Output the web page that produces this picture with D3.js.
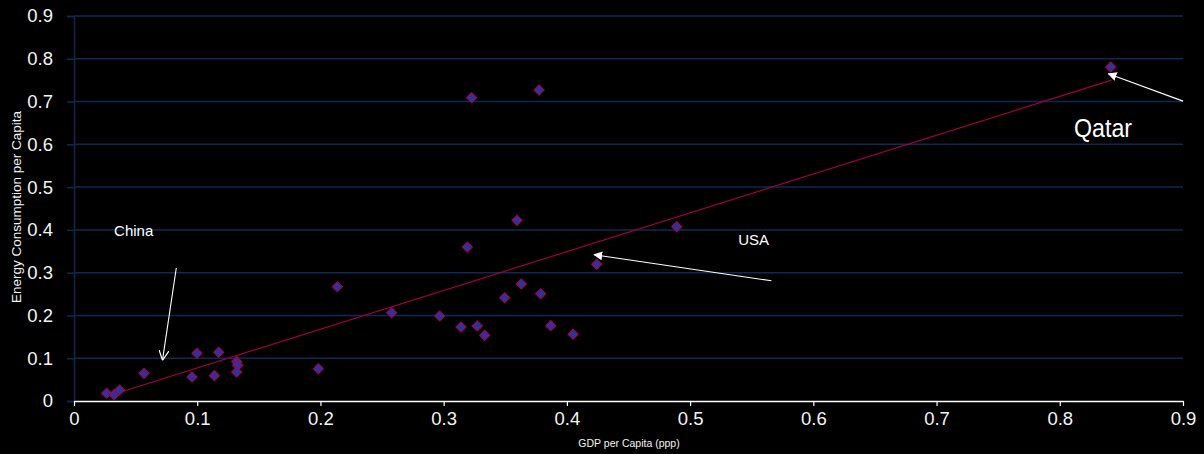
<!DOCTYPE html>
<html><head><meta charset="utf-8">
<script src="https://cdn.jsdelivr.net/npm/d3@7"></script>
<style>html,body{margin:0;padding:0;background:#000;}svg{display:block;}</style>
</head><body>
<svg id="chart" width="1204" height="454"></svg>
<script>
const gdp = [0.0265,0.0325,0.037,0.0568,0.0998,0.1174,0.0958,0.1139,0.132,0.1328,0.132,0.1983,
  0.2137,0.2578,0.2968,0.3141,0.3273,0.3333,0.3192,0.3595,0.3495,0.363,0.3787,0.3869,0.405,0.4242,
  0.3227,0.3774,0.4891,0.8413];
const energy = [0.018,0.0148,0.0257,0.0647,0.1115,0.1138,0.0561,0.0592,0.092,0.0834,0.0678,0.0755,
  0.267,0.2065,0.1987,0.173,0.1753,0.1535,0.36,0.4223,0.2415,0.2735,0.2508,0.1761,0.1559,0.3195,
  0.709,0.727,0.4075,0.7807];
const trendX = [0.0265, 0.842];
const trendY = [0.0105, 0.750];
const xTicks = [0,0.1,0.2,0.3,0.4,0.5,0.6,0.7,0.8,0.9];
const yTicks = [0,0.1,0.2,0.3,0.4,0.5,0.6,0.7,0.8,0.9];
const labels = ["China","USA","Qatar"];
const labelPos = [[0.0325,0.395],[0.539,0.375],[0.8116,0.633]];
const arrowFrom = [[0.083,0.311],[0.566,0.281],[0.9,0.701]];
const arrowTo = [[0.0718,0.095],[0.4221,0.342],[0.8395,0.765]];

const svg = d3.select("#chart");
const x = d3.scaleLinear().domain([0,0.9]).range([74,1183]);
const y = d3.scaleLinear().domain([0,0.9]).range([401,16]);
const font = "'Liberation Sans', Arial, sans-serif";
const grid = "#0c2b52";

// gridlines
svg.append("g").selectAll("line").data(yTicks.filter(d=>d>0)).join("line")
  .attr("x1",74).attr("x2",1183).attr("y1",d=>y(d)).attr("y2",d=>y(d))
  .attr("stroke",grid).attr("stroke-width",1.5);

// y axis
const yAxis = svg.append("g").attr("transform","translate(74,0)")
  .call(d3.axisLeft(y).tickValues(yTicks).tickSize(7).tickPadding(14).tickFormat(d=>d3.format("")(d)));
yAxis.select(".domain").attr("stroke",grid).attr("stroke-width",1.5);
yAxis.selectAll(".tick line").attr("stroke",grid).attr("stroke-width",1.5);
yAxis.selectAll("text").attr("fill","#f4f4f4").attr("font-family",font).attr("font-size",18.5);

// x axis
const xAxis = svg.append("g").attr("transform","translate(0,401)")
  .call(d3.axisBottom(x).tickValues(xTicks).tickSize(5).tickSizeOuter(0).tickPadding(6).tickFormat(d=>d3.format("")(d)));
xAxis.select(".domain").attr("stroke","#fff").attr("stroke-width",1.5);
xAxis.selectAll(".tick line").attr("stroke","#fff").attr("stroke-width",1.2);
xAxis.selectAll("text").attr("fill","#f4f4f4").attr("font-family",font).attr("font-size",18.5);

// axis titles
svg.append("text").attr("transform","translate(21,207) rotate(-90)").attr("text-anchor","middle")
  .attr("fill","#f4f4f4").attr("font-family",font).attr("font-size",13.5).text("Energy Consumption per Capita");
svg.append("text").attr("x",629).attr("y",447).attr("text-anchor","middle")
  .attr("fill","#f4f4f4").attr("font-family",font).attr("font-size",10.5).text("GDP per Capita (ppp)");

// trend line
svg.append("line").attr("x1",x(trendX[0])).attr("y1",y(trendY[0])).attr("x2",x(trendX[1])).attr("y2",y(trendY[1]))
  .attr("stroke","#a0003e").attr("stroke-width",1.2);

// points
const sym = d3.symbol(d3.symbolSquare, 52);
svg.append("g").selectAll("path").data(gdp.map((g,i)=>[g,energy[i]])).join("path")
  .attr("d",sym).attr("transform",d=>`translate(${x(d[0])},${y(d[1])}) rotate(45)`)
  .attr("fill","#2f3399").attr("stroke","#a8004f").attr("stroke-width",1);

// arrows
const defs = svg.append("defs");
defs.append("marker").attr("id","tri").attr("viewBox","0 0 10 10").attr("refX",9).attr("refY",5)
  .attr("markerWidth",9).attr("markerHeight",9).attr("markerUnits","userSpaceOnUse").attr("orient","auto")
  .append("path").attr("d","M0,0 L10,5 L0,10 Z").attr("fill","#fff");
defs.append("marker").attr("id","open").attr("viewBox","0 0 10 10").attr("refX",10).attr("refY",5)
  .attr("markerWidth",10).attr("markerHeight",10).attr("markerUnits","userSpaceOnUse").attr("orient","auto")
  .append("path").attr("d","M0,0 L10,5 L0,10").attr("fill","none").attr("stroke","#fff").attr("stroke-width",1.2);
arrowFrom.forEach((f,i)=>{
  svg.append("line").attr("x1",x(f[0])).attr("y1",y(f[1])).attr("x2",x(arrowTo[i][0])).attr("y2",y(arrowTo[i][1]))
    .attr("stroke","#fff").attr("stroke-width",1.1)
    .attr("marker-end", i===0 ? "url(#open)" : "url(#tri)");
});

// labels
const sizes = [15,15,25];
labels.forEach((t,i)=>{
  const el = svg.append("text").attr("x",x(labelPos[i][0])).attr("y",y(labelPos[i][1])).attr("fill","#fff")
    .attr("font-family",font).attr("font-size",sizes[i]).attr("dominant-baseline","middle").text(t);
  if (i===2) el.attr("textLength",58).attr("lengthAdjust","spacingAndGlyphs");
});
</script>
</body></html>
